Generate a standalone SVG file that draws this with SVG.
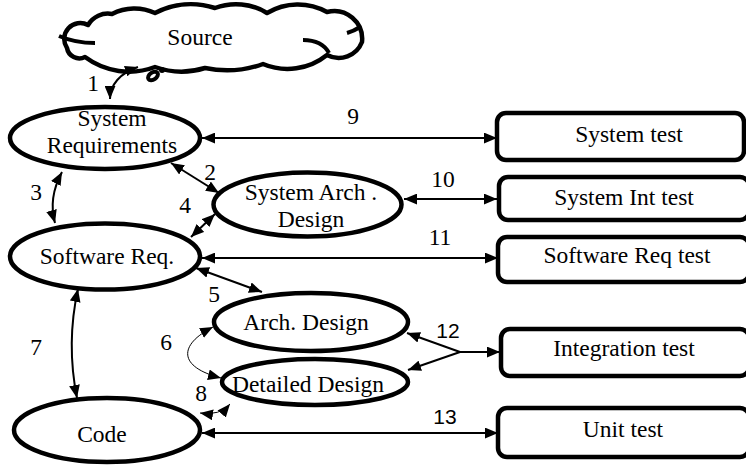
<svg xmlns="http://www.w3.org/2000/svg" width="746" height="465" viewBox="0 0 746 465">
<style>
.t{font-family:"Liberation Serif","Times New Roman",serif;font-size:23.5px;fill:#000;text-anchor:middle}
.s{font-family:"Liberation Sans",Arial,sans-serif;font-size:21px;fill:#000;text-anchor:middle}
.node{fill:#fff;stroke:#000;stroke-width:4.5}
.box{fill:#fff;stroke:#000;stroke-width:4.5}
.c{fill:none;stroke:#000;stroke-width:2;marker-start:url(#ah);marker-end:url(#ah)}
.c1{fill:none;stroke:#000;stroke-width:2;marker-end:url(#ah)}
.th{fill:none;stroke:#000;stroke-width:1;marker-start:url(#ah);marker-end:url(#ah)}
</style>
<defs>
<marker id="ah" viewBox="0 0 12 10" refX="12" refY="5" markerWidth="13" markerHeight="11" markerUnits="userSpaceOnUse" orient="auto-start-reverse">
<path d="M0,0 L12,5 L0,10 z" fill="#000"/>
</marker>
</defs>
<rect width="746" height="465" fill="#fff"/>

<g id="source">
<path class="node" stroke-linejoin="round" d="M 88,25 A 23,23 0 0 1 112,14 A 49,49 0 0 1 155,13 A 78,78 0 0 1 215,8 A 59,59 0 0 1 267,13 A 60,60 0 0 1 327,12 A 28,28 0 0 1 362,42 A 25,25 0 0 1 327,55 A 63,63 0 0 1 263,64 A 107,107 0 0 1 205,68 A 80,80 0 0 1 155,67 A 74,74 0 0 1 85,57 A 12.5,12.5 0 0 1 67,48 A 16,16 0 0 1 88,25 Z"/>
<path d="M 59,36 Q 75,43 95,43 M 303,40 Q 322,40 329,53 M 347,33 Q 354,31 360,27" fill="none" stroke="#000" stroke-width="4"/>
<ellipse cx="153" cy="76" rx="5.5" ry="3.5" transform="rotate(-35 153 76)" fill="#fff" stroke="#000" stroke-width="4"/>
<circle cx="162" cy="70" r="3" fill="#000"/>
<text class="t" x="200" y="45">Source</text>
</g>

<g id="sysreq">
<ellipse class="node" cx="105" cy="138" rx="95" ry="31"/>
<text class="t" x="112" y="126">System</text>
<text class="t" x="112" y="153">Requirements</text>
</g>

<g id="sysarch">
<ellipse class="node" cx="307.5" cy="204.5" rx="94" ry="32"/>
<text class="t" x="311" y="200">System Arch .</text>
<text class="t" x="311" y="227">Design</text>
</g>

<g id="swreq">
<ellipse class="node" cx="105" cy="256.5" rx="95" ry="33"/>
<text class="t" x="107" y="264">Software Req.</text>
</g>

<g id="archdesign">
<ellipse class="node" cx="311" cy="322" rx="97" ry="29"/>
<text class="t" x="306" y="330">Arch. Design</text>
</g>

<g id="detdesign">
<ellipse class="node" cx="315" cy="382" rx="93" ry="23"/>
<text class="t" x="308" y="392">Detailed Design</text>
</g>

<g id="code">
<ellipse class="node" cx="107" cy="430" rx="93" ry="32"/>
<text class="t" x="102" y="442">Code</text>
</g>

<g id="systest">
<rect class="box" x="497" y="113" width="247" height="47" rx="9"/>
<text class="t" x="629" y="142">System test</text>
</g>
<g id="sysinttest">
<rect class="box" x="499" y="177" width="250" height="43" rx="9"/>
<text class="t" x="624" y="205">System Int test</text>
</g>
<g id="swreqtest">
<rect class="box" x="498" y="237" width="251" height="45" rx="9"/>
<text class="t" x="627" y="263">Software Req test</text>
</g>
<g id="inttest">
<rect class="box" x="501" y="329" width="248" height="47" rx="9"/>
<text class="t" x="624" y="356">Integration test</text>
</g>
<g id="unittest">
<rect class="box" x="498" y="408" width="251" height="49" rx="9"/>
<text class="t" x="623" y="437">Unit test</text>
</g>

<g id="connectors">
<path class="c" d="M 110,99 C 110,85 120,73 138,67"/>
<path class="c" d="M 171,163 L 219,193"/>
<path class="c" d="M 62,172 Q 48,198 55,223"/>
<path class="c" d="M 215,214 L 191,237"/>
<path class="c" d="M 196,268 L 262,292"/>
<path class="th" d="M 213,327 C 178,345 178,367 221,378"/>
<path class="c" d="M 78,289 Q 66,343 77,398"/>
<path class="th" d="M 230,404 Q 220,416 200,413"/>
<path class="c" d="M 202,138 L 497,138"/>
<path class="c" d="M 404,199 L 497,199"/>
<path class="c" d="M 202,258 L 498,258"/>
<path class="c1" d="M 460,352 L 407,333"/>
<path class="c1" d="M 460,352 L 408,370"/>
<path class="c1" d="M 460,352 L 500,352"/>
<path class="c" d="M 202,433 L 498,433"/>
<text class="t" x="93" y="91">1</text>
<text class="t" x="210" y="180">2</text>
<text class="t" x="36" y="200">3</text>
<text class="t" x="185" y="213">4</text>
<text class="t" x="214" y="302">5</text>
<text class="t" x="166" y="350">6</text>
<text class="t" x="36" y="355">7</text>
<text class="t" x="201" y="401">8</text>
<text class="t" x="353" y="124">9</text>
<text class="t" x="443" y="187">10</text>
<text class="t" x="440" y="245">11</text>
<text class="s" x="448" y="338">12</text>
<text class="s" x="445" y="424">13</text>
</g>
</svg>
